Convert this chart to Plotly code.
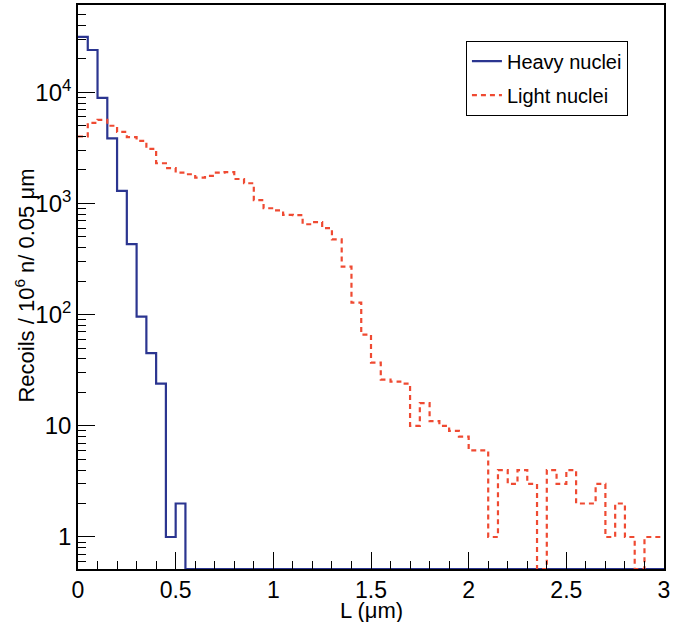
import numpy as np
import plotly.graph_objects as go

# ---- data (60 bins of 0.05 um from 0 to 3 um) ----
bin_width = 0.05
n_bins = 60
heavy_nuclei = [31500, 24000, 8900, 3850, 1300, 430, 96, 45, 24, 1, 2] + [0] * 49
light_nuclei = [4000, 5300, 5650, 5000, 4400, 3950, 3650, 3100, 2300, 2080,
                1890, 1830, 1710, 1770, 1890, 1910, 1660, 1520, 1070, 905,
                865, 790, 785, 650, 680, 600, 475, 270, 128, 66,
                37, 26, 25, 24, 10, 16, 11, 10, 9, 8,
                6, 6, 1, 4, 3, 4, 3, 0, 4, 3,
                4, 2, 2, 3, 1, 2, 1, 0, 1, 1]
x_tick_vals = [0, 0.5, 1, 1.5, 2, 2.5, 3]
x_tick_text = ["0", "0.5", "1", "1.5", "2", "2.5", "3"]
y_tick_vals = [1, 10, 100, 1000, 10000]
y_tick_text = ["1", "10", "10<sup>2</sup>", "10<sup>3</sup>", "10<sup>4</sup>"]

# ---- axis range (log) ----
log_ymin, log_ymax = -0.288, 4.785
ymin_val = 10 ** log_ymin

edges = np.round(np.arange(n_bins + 1) * bin_width, 3)


def step_y(vals):
    v = np.asarray(vals, dtype=float)
    v = np.where(v > 0, v, ymin_val)  # empty bins drawn on the frame, as ROOT does
    return np.append(v, v[-1])


fig = go.Figure()
fig.add_trace(go.Scatter(
    x=edges, y=step_y(heavy_nuclei), mode="lines", line_shape="hv",
    name="Heavy nuclei", legendgroup="h",
    line=dict(color="#2b3590", width=2.2)))
fig.add_trace(go.Scatter(
    x=edges, y=step_y(light_nuclei), mode="lines", line_shape="hv",
    name="Light nuclei", legendgroup="l",
    line=dict(color="#ef4a32", width=2.2, dash="5px,4px")))

font_family = "Liberation Sans, Arial, Helvetica, sans-serif"

x_minor = [round(i * 0.1, 2) for i in range(31) if i % 5 != 0]
y_minor = [m * 10 ** d for d in range(-1, 5) for m in range(2, 10)]
y_minor = [v for v in y_minor if ymin_val <= v <= 10 ** log_ymax]

fig.update_layout(
    width=692, height=622,
    margin=dict(l=78, r=28, t=5, b=53, autoexpand=False),
    paper_bgcolor="white", plot_bgcolor="white",
    font=dict(family=font_family, size=23, color="black"),
    showlegend=True,
    legend=dict(x=0.662, y=0.937, xanchor="left", yanchor="top",
                bordercolor="black", borderwidth=1, bgcolor="white",
                font=dict(size=20), itemwidth=30, tracegroupgap=5),
    xaxis=dict(range=[0, 3], showgrid=False, zeroline=False, automargin=False,
               showline=True, linecolor="black", linewidth=1.6, mirror=True,
               ticks="inside", ticklen=17, tickwidth=1.2, tickcolor="black",
               tickvals=x_tick_vals, ticktext=x_tick_text,
               tickfont=dict(size=23),
               minor=dict(tickvals=x_minor, ticks="inside", ticklen=8,
                          tickwidth=1.2, tickcolor="black")),
    yaxis=dict(type="log", range=[log_ymin, log_ymax], showgrid=False,
               zeroline=False, showline=True, linecolor="black", automargin=False,
               linewidth=1.6, mirror=True,
               ticks="inside", ticklen=17, tickwidth=1.2, tickcolor="black",
               tickvals=y_tick_vals, ticktext=y_tick_text,
               tickfont=dict(size=24),
               minor=dict(tickvals=y_minor, ticks="inside", ticklen=8,
                          tickwidth=1.2, tickcolor="black")),
    annotations=[
        dict(text="Recoils / 10<sup>6</sup> n/ 0.05 μm", textangle=-90,
             xref="paper", yref="paper", x=-0.090, y=0.503,
             xanchor="center", yanchor="middle", showarrow=False,
             font=dict(size=22, family=font_family)),
        dict(text="L (μm)", xref="paper", yref="paper", x=0.5, y=-0.073,
             xanchor="center", yanchor="middle", showarrow=False,
             font=dict(size=22, family=font_family)),
    ],
)

fig.write_html("out.html", config={"displayModeBar": False},
               post_script="document.body.style.margin='0';")
